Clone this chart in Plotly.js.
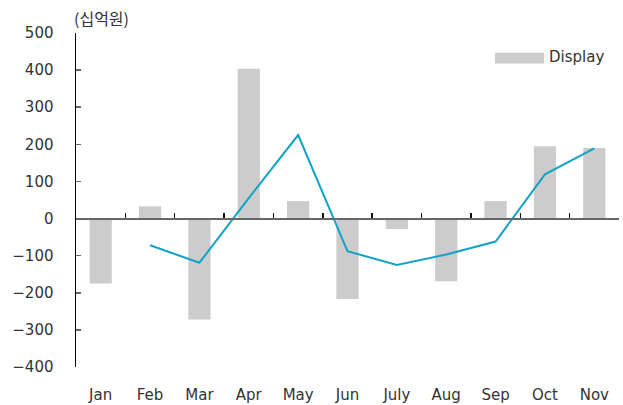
<!DOCTYPE html>
<html>
<head>
<meta charset="utf-8">
<script src="https://cdn.plot.ly/plotly-3.0.1.min.js"></script>
<style>html,body{margin:0;padding:0;background:#fff;}#chart{width:623px;height:405px;}</style>
</head>
<body>
<div id="chart"></div>
<script>
const months = ["Jan","Feb","Mar","Apr","May","Jun","July","Aug","Sep","Oct","Nov"];
const displayValues = [-175, 33, -272, 404, 47, -217, -28, -169, 47, 195, 190];
const lineValues = [null, -72, -119, 55, 225, -88, -125, -97, -62, 119, 189];
const yTicks = [-400, -300, -200, -100, 0, 100, 200, 300, 400, 500];
const yRange = [-400, 500];
const unitLabel = "(십억원)";
const seriesName = "Display";
const barColor = "#cccccc";

const zeroPos = (0 - yRange[0]) / (yRange[1] - yRange[0]);

const data = [
  {
    type: "bar", x: months, y: displayValues, name: seriesName,
    marker: {color: barColor}, showlegend: false, hoverinfo: "x+y"
  },
  {
    type: "scatter", mode: "lines", x: months, y: lineValues, xaxis: "x2",
    line: {color: "#12a2c7", width: 2}, showlegend: false, connectgaps: false
  }
];

const layout = {
  width: 623, height: 405,
  margin: {l: 76, r: 4, t: 33, b: 38},
  paper_bgcolor: "#fff", plot_bgcolor: "rgba(0,0,0,0)",
  font: {family: "DejaVu Sans, sans-serif", size: 15, color: "#333"},
  bargap: 0.55,
  showlegend: false,
  xaxis: {
    type: "category", range: [-0.5, months.length - 0.5],
    showline: false, ticks: "", showgrid: false, zeroline: false,
    tickfont: {size: 15, color: "#333"}, ticklabelstandoff: 17
  },
  xaxis2: {
    type: "category", matches: "x", overlaying: "x", anchor: "free", position: zeroPos,
    side: "bottom", showticklabels: false, showline: true, linecolor: "#666", linewidth: 2,
    ticks: "inside", tickson: "boundaries", ticklen: 5, tickcolor: "#111", tickwidth: 1.5,
    showgrid: false, zeroline: false, layer: "above traces"
  },
  yaxis: {
    range: yRange, tickvals: yTicks, ticktext: yTicks.map(v => v < 0 ? "\u2212" + Math.abs(v) : String(v)),
    showline: true, linecolor: "#000", linewidth: 1.5,
    ticks: "inside", ticklen: 5, tickcolor: "#666", tickwidth: 1.5,
    showgrid: false, zeroline: false, ticklabelstandoff: 18,
    tickfont: {size: 15, color: "#333"}
  },
  shapes: [{
    type: "rect", xref: "paper", yref: "paper",
    x0: 0.7716, x1: 0.8619, y0: 0.909, y1: 0.941,
    fillcolor: barColor, line: {width: 0}
  }],
  annotations: [
    {
      text: unitLabel, xref: "paper", yref: "paper", x: -0.008, y: 1.0, yshift: 15,
      xanchor: "left", yanchor: "middle", showarrow: false,
      font: {family: "Noto Sans CJK KR, sans-serif", size: 16, color: "#333"}
    },
    {
      text: seriesName, xref: "paper", yref: "paper", x: 0.868, y: 0.927,
      xanchor: "left", yanchor: "middle", showarrow: false,
      font: {size: 15, color: "#333"}
    }
  ]
};

Plotly.newPlot("chart", data, layout, {displayModeBar: false, staticPlot: true});
</script>
</body>
</html>
